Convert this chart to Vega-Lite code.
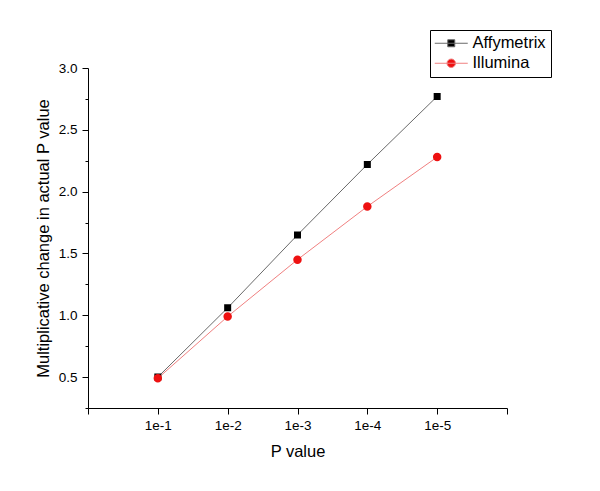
{
  "$schema": "https://vega.github.io/schema/vega-lite/v6.json",
  "width": 419,
  "height": 340,
  "autosize": {"type": "none"},
  "padding": {"left": 88, "top": 68, "right": 93, "bottom": 83},
  "background": "white",
  "config": {
    "view": {"stroke": null},
    "font": "Liberation Sans",
    "axis": {
      "domainColor": "black",
      "tickColor": "black",
      "labelColor": "black",
      "titleColor": "black",
      "labelFont": "Liberation Sans",
      "titleFont": "Liberation Sans",
      "labelFontSize": 13.5,
      "titleFontSize": 16.5,
      "titleFontWeight": "normal",
      "grid": false,
      "domainWidth": 1,
      "tickWidth": 1
    }
  },
  "data": {
    "values": [
      {"p": 0.1, "series": "Affymetrix", "v": 0.50},
      {"p": 0.01, "series": "Affymetrix", "v": 1.06},
      {"p": 0.001, "series": "Affymetrix", "v": 1.65},
      {"p": 0.0001, "series": "Affymetrix", "v": 2.22},
      {"p": 0.00001, "series": "Affymetrix", "v": 2.77},
      {"p": 0.1, "series": "Illumina", "v": 0.49},
      {"p": 0.01, "series": "Illumina", "v": 0.99},
      {"p": 0.001, "series": "Illumina", "v": 1.45},
      {"p": 0.0001, "series": "Illumina", "v": 1.88},
      {"p": 0.00001, "series": "Illumina", "v": 2.28}
    ]
  },
  "encoding": {
    "x": {
      "field": "p",
      "type": "quantitative",
      "scale": {"type": "log", "domain": [0.000001, 1], "reverse": true, "nice": false},
      "axis": {
        "title": "P value",
        "values": [1, 0.1, 0.01, 0.001, 0.0001, 0.00001, 0.000001],
        "labelExpr": "datum.value > 0.5 || datum.value < 0.000005 ? '' : '1e-' + round(-log(datum.value)/LN10)",
        "tickSize": 6,
        "labelPadding": 4,
        "titlePadding": 12,
        "labelFlush": false,
        "labelOverlap": false
      }
    },
    "y": {
      "field": "v",
      "type": "quantitative",
      "scale": {"domain": [0.25, 3.0], "nice": false, "zero": false},
      "axis": {
        "title": "Multiplicative change in actual P value",
        "values": [0.25, 0.5, 0.75, 1.0, 1.25, 1.5, 1.75, 2.0, 2.25, 2.5, 2.75, 3.0],
        "labelExpr": "(datum.value*2) % 1 == 0 ? format(datum.value, '.1f') : ''",
        "tickSize": {"condition": {"test": "(datum.value*2) % 1 != 0", "value": 3}, "value": 6},
        "labelPadding": 5,
        "titlePadding": 7,
        "labelFlush": false,
        "labelOverlap": false
      }
    }
  },
  "layer": [
    {
      "mark": {"type": "line", "strokeWidth": 1},
      "encoding": {
        "stroke": {
          "field": "series",
          "type": "nominal",
          "scale": {"domain": ["Affymetrix", "Illumina"], "range": ["#6a6a6a", "#f08080"]}
        }
      }
    },
    {
      "mark": {"type": "point", "filled": true, "opacity": 1, "strokeWidth": 0, "size": 64},
      "encoding": {
        "shape": {
          "field": "series",
          "type": "nominal",
          "scale": {
            "domain": ["Affymetrix", "Illumina"],
            "range": [
              "M-4.125,0H4.125M-0.875,-0.875H0.875V0.875H-0.875Z",
              "M-4.125,0H4.125M-1.06,0A1.06,1.06,0,1,1,1.06,0A1.06,1.06,0,1,1,-1.06,0Z"
            ]
          }
        },
        "fill": {
          "field": "series",
          "type": "nominal",
          "scale": {"domain": ["Affymetrix", "Illumina"], "range": ["#000000", "#ee1111"]},
          "legend": {
            "title": null,
            "orient": "none",
            "legendX": 342,
            "legendY": -38,
            "strokeColor": "black",
            "fillColor": "white",
            "padding": 5,
            "cornerRadius": 0,
            "labelFont": "Liberation Sans",
            "labelFontSize": 16.5,
            "labelColor": "black",
            "symbolSize": 64,
            "symbolStrokeWidth": 1,
            "symbolOffset": 8,
            "labelOffset": 13,
            "rowPadding": 3,
            "encode": {
              "symbols": {
                "update": {
                  "stroke": {"signal": "datum.value === 'Affymetrix' ? '#6a6a6a' : '#f08080'"},
                  "strokeWidth": {"value": 1},
                  "fill": {"signal": "datum.value === 'Affymetrix' ? '#000000' : '#ee1111'"},
                  "opacity": {"value": 1}
                }
              }
            }
          }
        }
      }
    }
  ]
}
